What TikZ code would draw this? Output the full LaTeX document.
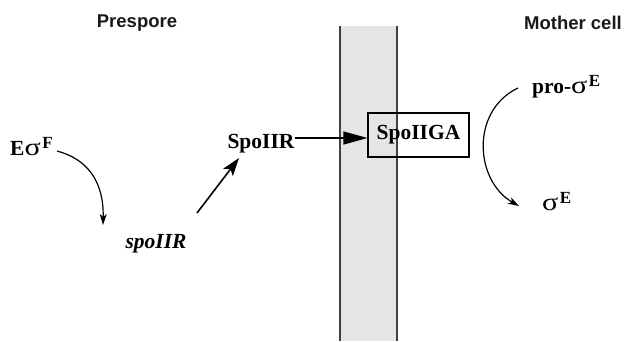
\documentclass[tikz,border=0pt]{standalone}
\usepackage{fontspec}
\setmainfont{Liberation Serif}
\newfontfamily\hdrfont{Liberation Sans}
\usetikzlibrary{arrows.meta}
\newcommand{\sig}{{\fontseries{m}\selectfont\scalebox{1.4}[1.15]{σ}}}
\newcommand{\sups}[1]{\kern1.5pt\raisebox{0.32em}{\fontsize{17}{17}\selectfont #1}}
\tikzset{
  lbl/.style={font=\fontsize{21.5}{24}\selectfont\bfseries, inner sep=0pt},
  hdr/.style={font=\hdrfont\fontsize{18.5}{20}\selectfont\bfseries, inner sep=0pt, text=black!90},
  curvearrow/.style={line width=1.2pt, -{Stealth[length=11pt,width=7pt,inset=3pt]}},
  thickarrow/.style={line width=1.6pt, -{Stealth[length=18pt,width=12pt,inset=4pt]}},
  bigarrow/.style={line width=1.1pt, -{Triangle[length=24pt,width=13pt]}},
  membrane/.style={fill=black!10, draw=none},
  memline/.style={line width=1.4pt, draw=black!75},
}
\begin{document}
\begin{tikzpicture}[x=1pt,y=1pt]
\useasboundingbox (0,0) rectangle (629,341);
% membrane
\fill[membrane] (340,0) rectangle (397,315);
\draw[memline] (340,0) -- (340,315);
\draw[memline] (397,0) -- (397,315);
% headers
\node[hdr] (pre) at (137,318) {Prespore};
\node[hdr] (mot) at (573,318) {Mother cell};
% labels
\node[lbl, anchor=base west] (ef) at (10,186) {E\sig\sups{F}};
\node[lbl, anchor=base] (gene) at (156,93) {\itshape spoIIR};
\node[lbl, anchor=base] (prot) at (261,193) {SpoIIR};
\node[lbl, draw, line width=1.1pt, minimum width=101pt, minimum height=44pt] (ga) at (418.5,206) {SpoIIGA};
\node[lbl, anchor=base west] (pro) at (532,248) {pro-\sig\sups{E}};
\node[lbl, anchor=base west] (se) at (542,131) {\sig\sups{E}};
% connector end points
\coordinate (c1) at (57,190);
\coordinate (c2) at (103,116);
\coordinate (c3) at (197,128);
\coordinate (c4) at (239,183);
\coordinate (c5) at (518,253);
\coordinate (c6) at (519,135);
% connectors
\draw[curvearrow] (c1) .. controls (87,182) and (104,160) .. (c2);
\draw[thickarrow] (c3) -- (c4);
\draw[bigarrow] (prot.east |- 0,203) -- (ga.west |- 0,203);
\draw[curvearrow] (c5) .. controls (470,230) and (475,160) .. (c6);
\end{tikzpicture}
\end{document}
